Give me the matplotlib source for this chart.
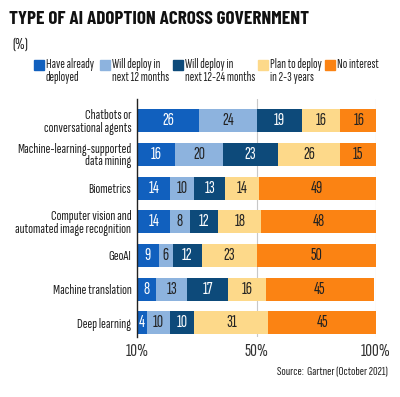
import matplotlib.pyplot as plt
from matplotlib.patches import Rectangle

categories = ["Chatbots or\nconversational agents",
              "Machine-learning-supported\ndata mining",
              "Biometrics",
              "Computer vision and\nautomated image recognition",
              "GeoAI",
              "Machine translation",
              "Deep learning"]
series_names = ["Have already\ndeployed", "Will deploy in\nnext 12 months",
                "Will deploy in\nnext 12-24 months", "Plan to deploy\nin 2-3 years",
                "No interest"]
already = [26, 16, 14, 14, 9, 8, 4]
next12 = [24, 20, 10, 8, 6, 13, 10]
next24 = [19, 23, 13, 12, 12, 17, 10]
plan23 = [16, 26, 14, 18, 23, 16, 31]
nointerest = [16, 15, 49, 48, 50, 45, 45]
tick_vals = [0, 50, 100]
tick_labels = ["10%", "50%", "100%"]

colors = ["#1160be", "#8db3de", "#0d4a7a", "#fdd98a", "#fb8313"]
text_colors = ["white", "#222222", "white", "#222222", "#222222"]
TITLE_FONT = ["Barlow Condensed", "DejaVu Sans"]
FONT = ["Sofia Sans Extra Condensed", "Barlow Condensed", "DejaVu Sans"]

fig = plt.figure(figsize=(4, 3.97), dpi=100)
ax = fig.add_axes([0.3425, 0.1511, 0.5975, 0.5995])

allseries = [already, next12, next24, plan23, nointerest]
ypos = list(range(len(categories)))
left = [0] * len(categories)
for s, vals in enumerate(allseries):
    ax.barh(ypos, vals, left=left, height=0.68, color=colors[s], zorder=2)
    for i, v in enumerate(vals):
        ax.text(left[i] + v / 2, ypos[i], str(v), ha="center", va="center",
                fontsize=12.5, fontweight="medium", color=text_colors[s],
                family=FONT, zorder=3)
    left = [l + v for l, v in zip(left, vals)]

ax.set_xlim(0, 100)
ax.set_ylim(6.42, -0.645)
ax.set_yticks(ypos)
ax.set_yticklabels(categories, family=FONT, fontsize=10.4, color="#222222",
                   linespacing=0.95)
ax.set_xticks(tick_vals)
ax.set_xticklabels(tick_labels, family=FONT, fontsize=13.5, color="#333333")
ax.tick_params(length=0, pad=4)
ax.tick_params(axis="x", pad=4)
for sp in ["top", "right", "bottom"]:
    ax.spines[sp].set_visible(False)
ax.spines["left"].set_color("#222222")
ax.spines["left"].set_linewidth(1)
for v in tick_vals[1:]:
    ax.axvline(v, color="#c8c8c8", lw=0.8, zorder=1)

fig.text(0.022, 0.972, "TYPE OF AI ADOPTION ACROSS GOVERNMENT", family=TITLE_FONT,
         fontsize=13.8, fontweight="bold", va="top", color="#111111")
fig.text(0.03, 0.905, "(%)", family=FONT, fontsize=12, va="top", color="#222222")

leg_x = [34, 100, 173, 258, 325]
for s, name in enumerate(series_names):
    fig.patches.append(Rectangle((leg_x[s] / 400, 1 - 70 / 397), 10 / 400, 10 / 397,
                                 transform=fig.transFigure, color=colors[s]))
    fig.text((leg_x[s] + 12) / 400, 1 - 58 / 397, name, family=FONT, fontsize=9.8,
             va="top", linespacing=1.0, color="#222222")

fig.text(388 / 400, 1 - 372 / 397, "Source:  Gartner (October 2021)", family=FONT,
         fontsize=9.3, ha="right", va="center", color="#222222")

fig.savefig("out.png", dpi=100, facecolor="white")
